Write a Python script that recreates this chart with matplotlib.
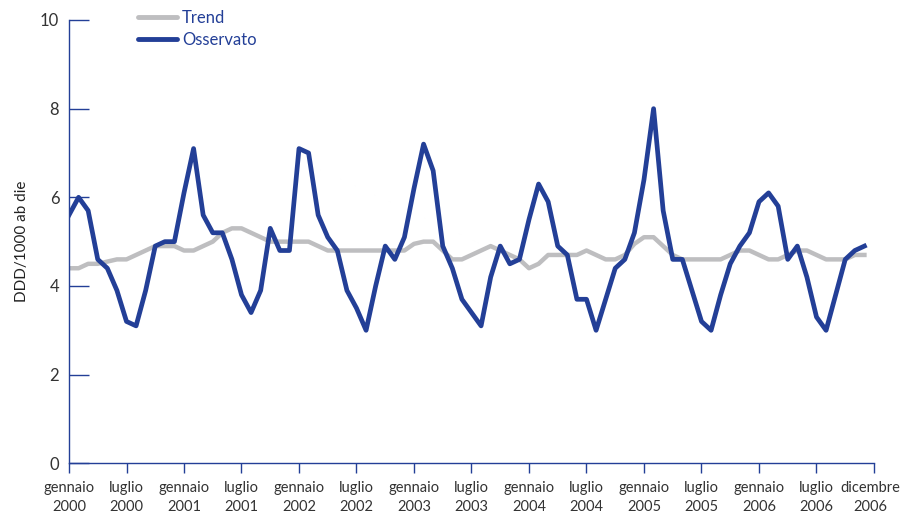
import matplotlib
matplotlib.use('Agg')
import matplotlib.pyplot as plt
import matplotlib.transforms as mtransforms

# monthly values, gennaio 2000 .. dicembre 2006
osservato = [5.6, 6.0, 5.7, 4.6, 4.4, 3.9, 3.2, 3.1, 3.9, 4.9, 5.0, 5.0,
             6.1, 7.1, 5.6, 5.2, 5.2, 4.6, 3.8, 3.4, 3.9, 5.3, 4.8, 4.8,
             7.1, 7.0, 5.6, 5.1, 4.8, 3.9, 3.5, 3.0, 4.0, 4.9, 4.6, 5.1,
             6.2, 7.2, 6.6, 4.9, 4.4, 3.7, 3.4, 3.1, 4.2, 4.9, 4.5, 4.6,
             5.5, 6.3, 5.9, 4.9, 4.7, 3.7, 3.7, 3.0, 3.7, 4.4, 4.6, 5.2,
             6.4, 8.0, 5.7, 4.6, 4.6, 3.9, 3.2, 3.0, 3.8, 4.5, 4.9, 5.2,
             5.9, 6.1, 5.8, 4.6, 4.9, 4.2, 3.3, 3.0, 3.8, 4.6, 4.8, 4.9]
trend = [4.4, 4.4, 4.5, 4.5, 4.55, 4.6, 4.6, 4.7, 4.8, 4.9, 4.9, 4.9,
         4.8, 4.8, 4.9, 5.0, 5.2, 5.3, 5.3, 5.2, 5.1, 5.0, 5.0, 5.0,
         5.0, 5.0, 4.9, 4.8, 4.8, 4.8, 4.8, 4.8, 4.8, 4.8, 4.8, 4.8,
         4.95, 5.0, 5.0, 4.8, 4.6, 4.6, 4.7, 4.8, 4.9, 4.8, 4.7, 4.6,
         4.4, 4.5, 4.7, 4.7, 4.7, 4.7, 4.8, 4.7, 4.6, 4.6, 4.7, 4.95,
         5.1, 5.1, 4.9, 4.7, 4.6, 4.6, 4.6, 4.6, 4.6, 4.7, 4.8, 4.8,
         4.7, 4.6, 4.6, 4.7, 4.8, 4.8, 4.7, 4.6, 4.6, 4.6, 4.7, 4.7]
tick_labels = ['gennaio\n2000', 'luglio\n2000', 'gennaio\n2001', 'luglio\n2001',
               'gennaio\n2002', 'luglio\n2002', 'gennaio\n2003', 'luglio\n2003',
               'gennaio\n2004', 'luglio\n2004', 'gennaio\n2005', 'luglio\n2005',
               'gennaio\n2006', 'luglio\n2006', 'dicembre\n2006']

blue = '#233f97'
gray = '#bebec0'
plt.rcParams['font.family'] = ['Lato', 'DejaVu Sans']

fig = plt.figure(figsize=(9.01, 5.18), dpi=100)
ax = fig.add_axes([69 / 901, 1 - 463.3 / 518, 805 / 901, 443.3 / 518])

months = list(range(len(osservato)))
ax.plot(months, trend, color=gray, lw=3.2, label='Trend')
ax.plot(months, osservato, color=blue, lw=3.4, label='Osservato')

ax.set_xlim(0, 84)
ax.set_ylim(0, 10)
ax.set_xticks(range(0, 85, 6))
ax.set_xticklabels(tick_labels, fontsize=10.5, color='#333333', linespacing=1.45)
ax.set_yticks([0, 2, 4, 6, 8, 10])
ax.tick_params(axis='x', direction='out', length=7, width=1, color=blue, pad=6)
ax.tick_params(axis='y', direction='in', length=14.5, width=1, color=blue, pad=7,
               labelsize=12, labelcolor='#333333')
for s in ['top', 'right']:
    ax.spines[s].set_visible(False)
for s in ['left', 'bottom']:
    ax.spines[s].set_color(blue)
    ax.spines[s].set_linewidth(1)

# keep the last label inside the picture
last = ax.get_xticklabels()[-1]
last.set_transform(last.get_transform() + mtransforms.ScaledTranslation(-4 / 100, 0, fig.dpi_scale_trans))

ax.set_ylabel('DDD/1000 ab die', fontsize=11, color='#222222', labelpad=8)

leg = ax.legend(loc='upper left', bbox_to_anchor=(138 / 901, 1 - 10 / 518),
                bbox_transform=fig.transFigure, frameon=False, fontsize=12,
                handlelength=2.35, handletextpad=0.3, labelspacing=0.35,
                borderpad=0, borderaxespad=0, labelcolor=blue)
for line in leg.get_lines():
    line.set_linewidth(3.5)
    line.set_solid_capstyle('round')

fig.savefig('out.png', dpi=100)
